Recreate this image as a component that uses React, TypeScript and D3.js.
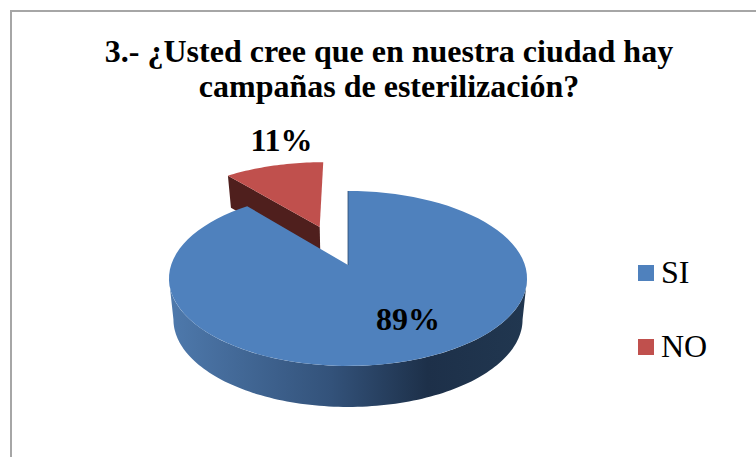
import React from "react";
import * as d3 from "d3";

const categories = ["SI", "NO"];
const values = [89, 11];
const labels = ["89%", "11%"];
const titleLines = ["3.- ¿Usted cree que en nuestra ciudad hay", "campañas de esterilización?"];
const topColors = ["#4f81bd", "#c0504d"];
const legendY = [274, 348];
const W = 756, H = 457;
const FONT = "'Liberation Serif', 'Times New Roman', serif";

const CX = 348, CY = 265, G = 176.9, HGT = 85.4, P = 0.154;
const DEPTH = 41, RED_DEPTH = 32, BASE_SCALE = 0.975, EXPLODE = 0.507;

type Pt = [number, number];
const project = (sx: number, cy: number): Pt => {
  const w = 1 + P * cy;
  return [CX + (G * sx) / w, CY - (HGT * cy) / w];
};
const rim = (a: number, off: number[] = [0, 0]): Pt => project(Math.sin(a) + off[0], Math.cos(a) + off[1]);
const sink = (p: Pt, d: number): Pt => [CX + (p[0] - CX) * BASE_SCALE, p[1] + d];
const samples = (a0: number, a1: number, n = 90) => d3.range(n + 1).map((i) => a0 + ((a1 - a0) * i) / n);
const line = d3.line<Pt>();

export default function App() {
  const arcs = d3.pie<number>().sort(null)(values);
  const big = arcs[0], small = arcs[1];
  const mid = (small.startAngle + small.endAngle) / 2;
  const off = [EXPLODE * Math.sin(mid), EXPLODE * Math.cos(mid)];

  // top faces
  const bigTop = [project(0, 0), ...samples(big.startAngle, big.endAngle).map((a) => rim(a))];
  const smallRim = samples(small.startAngle, small.endAngle, 30).map((a) => rim(a, off));
  const apex = project(off[0], off[1]);
  const smallTop = [apex, ...smallRim];

  // front wall of the big slice: between the horizontal extremes of the projected rim
  const extreme = Math.acos(-P);
  const wallAngles = samples(extreme, Math.PI * 2 - extreme, 120);
  const wallTop = wallAngles.map((a) => rim(a));
  const wall = [...wallTop, ...wallTop.slice().reverse().map((p) => sink(p, DEPTH))];

  // dark cut face of the exploded slice
  const cutEnd = smallRim[0];
  const cut = [apex, cutEnd, sink(cutEnd, RED_DEPTH), sink(apex, RED_DEPTH)];

  return (
    <svg width={W} height={H} viewBox={`0 0 ${W} ${H}`}
      style={{ position: "absolute", left: 0, top: 0, display: "block", background: "#fff" }}>
      <defs>
        <linearGradient id="wall" gradientUnits="userSpaceOnUse" x1={170} x2={528} y1={0} y2={0}>
          <stop offset="0" stopColor="#4e79ac" />
          <stop offset="0.45" stopColor="#33527a" />
          <stop offset="0.72" stopColor="#1d3049" />
          <stop offset="1" stopColor="#213750" />
        </linearGradient>
      </defs>
      <path d={`M11,457V11H${W}`} fill="none" stroke="#a6a6a6" strokeWidth={2} />
      {titleLines.map((t, i) => (
        <text key={t} x={389} y={62 + i * 35} textAnchor="middle" fontFamily={FONT}
          fontWeight="bold" fontSize={32} fill="#000">{t}</text>
      ))}
      <path d={line(cut)!} fill="#4f1f1d" />
      <path d={line(smallTop)! + "Z"} fill={topColors[1]} />
      <path d={line(wall)! + "Z"} fill="url(#wall)" />
      <path d={line(bigTop)! + "Z"} fill={topColors[0]} />
      <path d={line([project(0, 0), rim(big.startAngle)])!} stroke="#2c4a6e" strokeWidth={0.8} />
      <text x={281.5} y={151} textAnchor="middle" fontFamily={FONT} fontWeight="bold" fontSize={32}>{labels[1]}</text>
      <text x={408} y={330} textAnchor="middle" fontFamily={FONT} fontWeight="bold" fontSize={32}>{labels[0]}</text>
      {categories.map((c, i) => (
        <g key={c}>
          <rect x={638} y={legendY[i] - 9} width={16} height={16} fill={topColors[i]} />
          <text x={661} y={legendY[i] + 9} fontFamily={FONT} fontSize={32} fill="#000">{c}</text>
        </g>
      ))}
    </svg>
  );
}
